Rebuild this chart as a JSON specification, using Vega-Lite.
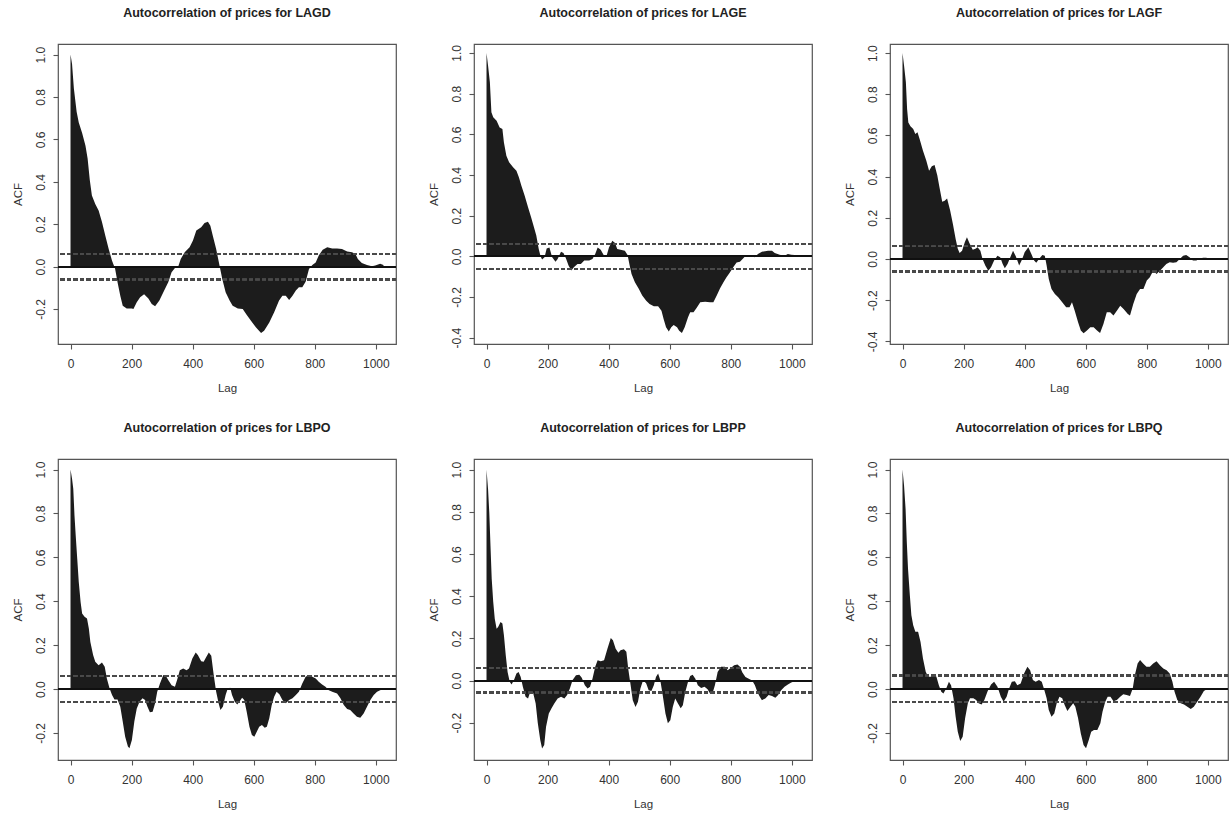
{
  "$schema": "https://vega.github.io/schema/vega-lite/v6.json",
  "padding": {"left": 11, "top": 5, "right": 0, "bottom": 0},
  "background": "white",
  "datasets": {
    "LAGD": [
      {"lag":0,"acf":1.0},{"lag":5,"acf":0.956},{"lag":11,"acf":0.84},{"lag":20,"acf":0.73},{"lag":27,"acf":0.68},{"lag":38,"acf":0.63},{"lag":49,"acf":0.57},{"lag":56,"acf":0.51},{"lag":63,"acf":0.41},{"lag":70,"acf":0.335},{"lag":81,"acf":0.295},{"lag":92,"acf":0.265},{"lag":103,"acf":0.21},{"lag":114,"acf":0.146},{"lag":125,"acf":0.083},{"lag":136,"acf":0.028},{"lag":146,"acf":-0.01},{"lag":154,"acf":-0.074},{"lag":163,"acf":-0.137},{"lag":171,"acf":-0.184},{"lag":184,"acf":-0.197},{"lag":201,"acf":-0.197},{"lag":206,"acf":-0.2},{"lag":217,"acf":-0.168},{"lag":228,"acf":-0.145},{"lag":241,"acf":-0.13},{"lag":255,"acf":-0.15},{"lag":266,"acf":-0.176},{"lag":277,"acf":-0.187},{"lag":291,"acf":-0.16},{"lag":304,"acf":-0.121},{"lag":320,"acf":-0.074},{"lag":331,"acf":-0.027},{"lag":342,"acf":-0.006},{"lag":352,"acf":-0.003},{"lag":361,"acf":0.036},{"lag":374,"acf":0.068},{"lag":390,"acf":0.091},{"lag":401,"acf":0.123},{"lag":412,"acf":0.17},{"lag":428,"acf":0.186},{"lag":439,"acf":0.206},{"lag":450,"acf":0.212},{"lag":458,"acf":0.193},{"lag":466,"acf":0.146},{"lag":477,"acf":0.083},{"lag":488,"acf":0.005},{"lag":497,"acf":-0.058},{"lag":508,"acf":-0.121},{"lag":521,"acf":-0.16},{"lag":531,"acf":-0.184},{"lag":548,"acf":-0.197},{"lag":564,"acf":-0.2},{"lag":575,"acf":-0.223},{"lag":591,"acf":-0.255},{"lag":607,"acf":-0.286},{"lag":624,"acf":-0.313},{"lag":634,"acf":-0.302},{"lag":651,"acf":-0.263},{"lag":667,"acf":-0.215},{"lag":683,"acf":-0.16},{"lag":694,"acf":-0.137},{"lag":705,"acf":-0.137},{"lag":716,"acf":-0.157},{"lag":727,"acf":-0.137},{"lag":738,"acf":-0.113},{"lag":748,"acf":-0.097},{"lag":759,"acf":-0.097},{"lag":770,"acf":-0.071},{"lag":781,"acf":-0.011},{"lag":792,"acf":0.008},{"lag":803,"acf":0.02},{"lag":813,"acf":0.052},{"lag":826,"acf":0.08},{"lag":841,"acf":0.091},{"lag":857,"acf":0.086},{"lag":873,"acf":0.086},{"lag":889,"acf":0.083},{"lag":906,"acf":0.071},{"lag":922,"acf":0.068},{"lag":933,"acf":0.06},{"lag":941,"acf":0.036},{"lag":954,"acf":0.017},{"lag":971,"acf":0.008},{"lag":987,"acf":0.002},{"lag":998,"acf":0.005},{"lag":1014,"acf":0.013},{"lag":1025,"acf":0.008}
    ],
    "LAGE": [
      {"lag":0,"acf":1.0},{"lag":5,"acf":0.938},{"lag":11,"acf":0.856},{"lag":16,"acf":0.708},{"lag":22,"acf":0.684},{"lag":33,"acf":0.667},{"lag":43,"acf":0.634},{"lag":52,"acf":0.626},{"lag":57,"acf":0.56},{"lag":65,"acf":0.495},{"lag":74,"acf":0.462},{"lag":87,"acf":0.438},{"lag":98,"acf":0.421},{"lag":106,"acf":0.389},{"lag":114,"acf":0.348},{"lag":125,"acf":0.298},{"lag":136,"acf":0.241},{"lag":146,"acf":0.192},{"lag":154,"acf":0.151},{"lag":163,"acf":0.102},{"lag":171,"acf":0.036},{"lag":177,"acf":0.0},{"lag":182,"acf":-0.016},{"lag":190,"acf":-0.005},{"lag":197,"acf":0.039},{"lag":206,"acf":0.044},{"lag":215,"acf":-0.005},{"lag":226,"acf":-0.026},{"lag":233,"acf":-0.013},{"lag":244,"acf":0.023},{"lag":252,"acf":0.016},{"lag":260,"acf":-0.01},{"lag":269,"acf":-0.046},{"lag":278,"acf":-0.07},{"lag":286,"acf":-0.054},{"lag":298,"acf":-0.038},{"lag":309,"acf":-0.038},{"lag":320,"acf":-0.021},{"lag":336,"acf":-0.021},{"lag":347,"acf":-0.013},{"lag":356,"acf":0.011},{"lag":364,"acf":0.044},{"lag":374,"acf":0.033},{"lag":385,"acf":0.003},{"lag":394,"acf":0.007},{"lag":401,"acf":0.044},{"lag":412,"acf":0.077},{"lag":421,"acf":0.066},{"lag":428,"acf":0.036},{"lag":439,"acf":0.033},{"lag":453,"acf":0.028},{"lag":462,"acf":0.007},{"lag":469,"acf":-0.046},{"lag":475,"acf":-0.087},{"lag":486,"acf":-0.128},{"lag":499,"acf":-0.161},{"lag":510,"acf":-0.193},{"lag":523,"acf":-0.218},{"lag":534,"acf":-0.234},{"lag":548,"acf":-0.246},{"lag":562,"acf":-0.246},{"lag":573,"acf":-0.267},{"lag":580,"acf":-0.308},{"lag":588,"acf":-0.349},{"lag":597,"acf":-0.37},{"lag":605,"acf":-0.349},{"lag":613,"acf":-0.338},{"lag":624,"acf":-0.349},{"lag":631,"acf":-0.366},{"lag":640,"acf":-0.377},{"lag":649,"acf":-0.349},{"lag":660,"acf":-0.3},{"lag":667,"acf":-0.275},{"lag":678,"acf":-0.275},{"lag":689,"acf":-0.251},{"lag":700,"acf":-0.226},{"lag":716,"acf":-0.223},{"lag":732,"acf":-0.226},{"lag":743,"acf":-0.226},{"lag":754,"acf":-0.193},{"lag":765,"acf":-0.157},{"lag":776,"acf":-0.128},{"lag":786,"acf":-0.103},{"lag":797,"acf":-0.079},{"lag":808,"acf":-0.054},{"lag":819,"acf":-0.03},{"lag":830,"acf":-0.026},{"lag":841,"acf":-0.01},{"lag":851,"acf":0.007},{"lag":862,"acf":0.007},{"lag":878,"acf":-0.005},{"lag":889,"acf":0.011},{"lag":902,"acf":0.023},{"lag":922,"acf":0.028},{"lag":935,"acf":0.028},{"lag":944,"acf":0.016},{"lag":960,"acf":0.008},{"lag":976,"acf":0.003},{"lag":987,"acf":0.011},{"lag":998,"acf":0.008},{"lag":1009,"acf":0.007},{"lag":1022,"acf":0.003}
    ],
    "LAGF": [
      {"lag":0,"acf":1.0},{"lag":5,"acf":0.939},{"lag":11,"acf":0.858},{"lag":15,"acf":0.728},{"lag":19,"acf":0.663},{"lag":26,"acf":0.644},{"lag":35,"acf":0.631},{"lag":42,"acf":0.607},{"lag":49,"acf":0.615},{"lag":56,"acf":0.583},{"lag":67,"acf":0.526},{"lag":78,"acf":0.477},{"lag":87,"acf":0.429},{"lag":96,"acf":0.45},{"lag":105,"acf":0.456},{"lag":114,"acf":0.405},{"lag":121,"acf":0.348},{"lag":130,"acf":0.278},{"lag":138,"acf":0.283},{"lag":146,"acf":0.294},{"lag":156,"acf":0.235},{"lag":165,"acf":0.17},{"lag":174,"acf":0.097},{"lag":181,"acf":0.049},{"lag":187,"acf":0.029},{"lag":195,"acf":0.04},{"lag":204,"acf":0.081},{"lag":211,"acf":0.105},{"lag":219,"acf":0.078},{"lag":230,"acf":0.045},{"lag":239,"acf":0.049},{"lag":246,"acf":0.057},{"lag":255,"acf":0.04},{"lag":262,"acf":0.0},{"lag":271,"acf":-0.032},{"lag":281,"acf":-0.057},{"lag":290,"acf":-0.04},{"lag":300,"acf":-0.008},{"lag":311,"acf":0.016},{"lag":320,"acf":0.008},{"lag":328,"acf":-0.024},{"lag":335,"acf":-0.045},{"lag":344,"acf":-0.024},{"lag":355,"acf":0.016},{"lag":362,"acf":0.04},{"lag":371,"acf":0.013},{"lag":382,"acf":-0.032},{"lag":390,"acf":-0.008},{"lag":400,"acf":0.032},{"lag":412,"acf":0.057},{"lag":422,"acf":0.024},{"lag":431,"acf":-0.008},{"lag":438,"acf":-0.019},{"lag":447,"acf":0.0},{"lag":458,"acf":0.019},{"lag":466,"acf":0.016},{"lag":472,"acf":-0.032},{"lag":479,"acf":-0.097},{"lag":488,"acf":-0.146},{"lag":499,"acf":-0.17},{"lag":510,"acf":-0.186},{"lag":523,"acf":-0.21},{"lag":536,"acf":-0.235},{"lag":547,"acf":-0.235},{"lag":555,"acf":-0.21},{"lag":564,"acf":-0.251},{"lag":575,"acf":-0.307},{"lag":584,"acf":-0.348},{"lag":593,"acf":-0.361},{"lag":604,"acf":-0.348},{"lag":615,"acf":-0.332},{"lag":626,"acf":-0.332},{"lag":637,"acf":-0.348},{"lag":647,"acf":-0.359},{"lag":658,"acf":-0.316},{"lag":669,"acf":-0.259},{"lag":680,"acf":-0.259},{"lag":691,"acf":-0.275},{"lag":702,"acf":-0.251},{"lag":713,"acf":-0.227},{"lag":724,"acf":-0.243},{"lag":738,"acf":-0.267},{"lag":745,"acf":-0.275},{"lag":756,"acf":-0.218},{"lag":767,"acf":-0.17},{"lag":778,"acf":-0.146},{"lag":789,"acf":-0.146},{"lag":800,"acf":-0.105},{"lag":810,"acf":-0.089},{"lag":821,"acf":-0.057},{"lag":832,"acf":-0.073},{"lag":843,"acf":-0.057},{"lag":854,"acf":-0.04},{"lag":864,"acf":-0.024},{"lag":875,"acf":-0.016},{"lag":886,"acf":-0.019},{"lag":897,"acf":-0.016},{"lag":908,"acf":0.0},{"lag":919,"acf":0.016},{"lag":929,"acf":0.019},{"lag":940,"acf":0.008},{"lag":951,"acf":-0.008},{"lag":962,"acf":-0.008},{"lag":973,"acf":0.0},{"lag":984,"acf":0.006},{"lag":995,"acf":0.006},{"lag":1005,"acf":0.0},{"lag":1020,"acf":-0.003}
    ],
    "LBPO": [
      {"lag":0,"acf":1.0},{"lag":5,"acf":0.958},{"lag":9,"acf":0.912},{"lag":13,"acf":0.791},{"lag":17,"acf":0.7},{"lag":22,"acf":0.594},{"lag":27,"acf":0.488},{"lag":33,"acf":0.397},{"lag":38,"acf":0.344},{"lag":46,"acf":0.329},{"lag":54,"acf":0.321},{"lag":60,"acf":0.276},{"lag":65,"acf":0.215},{"lag":74,"acf":0.155},{"lag":81,"acf":0.124},{"lag":92,"acf":0.109},{"lag":103,"acf":0.121},{"lag":112,"acf":0.102},{"lag":119,"acf":0.048},{"lag":128,"acf":0.003},{"lag":136,"acf":-0.027},{"lag":144,"acf":-0.047},{"lag":154,"acf":-0.047},{"lag":163,"acf":-0.08},{"lag":171,"acf":-0.148},{"lag":179,"acf":-0.217},{"lag":188,"acf":-0.262},{"lag":193,"acf":-0.27},{"lag":201,"acf":-0.232},{"lag":209,"acf":-0.148},{"lag":217,"acf":-0.088},{"lag":226,"acf":-0.058},{"lag":236,"acf":-0.042},{"lag":244,"acf":-0.05},{"lag":252,"acf":-0.08},{"lag":260,"acf":-0.106},{"lag":269,"acf":-0.103},{"lag":277,"acf":-0.065},{"lag":284,"acf":-0.012},{"lag":293,"acf":0.026},{"lag":304,"acf":0.064},{"lag":312,"acf":0.061},{"lag":320,"acf":0.041},{"lag":331,"acf":0.018},{"lag":342,"acf":0.011},{"lag":349,"acf":0.041},{"lag":358,"acf":0.086},{"lag":369,"acf":0.094},{"lag":380,"acf":0.086},{"lag":388,"acf":0.094},{"lag":399,"acf":0.139},{"lag":410,"acf":0.167},{"lag":417,"acf":0.155},{"lag":428,"acf":0.127},{"lag":436,"acf":0.124},{"lag":445,"acf":0.147},{"lag":453,"acf":0.167},{"lag":461,"acf":0.152},{"lag":469,"acf":0.064},{"lag":477,"acf":-0.012},{"lag":485,"acf":-0.065},{"lag":491,"acf":-0.095},{"lag":499,"acf":-0.08},{"lag":508,"acf":-0.027},{"lag":515,"acf":0.003},{"lag":523,"acf":0.006},{"lag":529,"acf":-0.027},{"lag":538,"acf":-0.058},{"lag":546,"acf":-0.07},{"lag":553,"acf":-0.058},{"lag":562,"acf":-0.039},{"lag":569,"acf":-0.05},{"lag":577,"acf":-0.103},{"lag":586,"acf":-0.171},{"lag":594,"acf":-0.209},{"lag":602,"acf":-0.217},{"lag":610,"acf":-0.194},{"lag":618,"acf":-0.171},{"lag":627,"acf":-0.164},{"lag":636,"acf":-0.176},{"lag":643,"acf":-0.171},{"lag":651,"acf":-0.133},{"lag":659,"acf":-0.073},{"lag":667,"acf":-0.035},{"lag":675,"acf":-0.012},{"lag":684,"acf":-0.024},{"lag":694,"acf":-0.05},{"lag":705,"acf":-0.065},{"lag":716,"acf":-0.05},{"lag":727,"acf":-0.042},{"lag":738,"acf":-0.027},{"lag":748,"acf":-0.012},{"lag":759,"acf":0.026},{"lag":770,"acf":0.056},{"lag":781,"acf":0.064},{"lag":792,"acf":0.056},{"lag":803,"acf":0.048},{"lag":813,"acf":0.033},{"lag":824,"acf":0.021},{"lag":835,"acf":0.011},{"lag":846,"acf":-0.005},{"lag":857,"acf":-0.012},{"lag":873,"acf":-0.02},{"lag":884,"acf":-0.042},{"lag":895,"acf":-0.073},{"lag":906,"acf":-0.091},{"lag":916,"acf":-0.095},{"lag":927,"acf":-0.111},{"lag":938,"acf":-0.126},{"lag":949,"acf":-0.13},{"lag":960,"acf":-0.111},{"lag":971,"acf":-0.08},{"lag":982,"acf":-0.05},{"lag":993,"acf":-0.027},{"lag":1004,"acf":-0.012},{"lag":1014,"acf":-0.005},{"lag":1025,"acf":0.0}
    ],
    "LBPP": [
      {"lag":0,"acf":1.0},{"lag":5,"acf":0.909},{"lag":9,"acf":0.798},{"lag":13,"acf":0.64},{"lag":17,"acf":0.483},{"lag":22,"acf":0.372},{"lag":27,"acf":0.293},{"lag":33,"acf":0.246},{"lag":38,"acf":0.254},{"lag":46,"acf":0.278},{"lag":52,"acf":0.27},{"lag":57,"acf":0.215},{"lag":63,"acf":0.12},{"lag":69,"acf":0.041},{"lag":76,"acf":-0.006},{"lag":82,"acf":-0.019},{"lag":90,"acf":0.002},{"lag":98,"acf":0.033},{"lag":105,"acf":0.041},{"lag":112,"acf":0.017},{"lag":119,"acf":-0.03},{"lag":128,"acf":-0.077},{"lag":136,"acf":-0.085},{"lag":143,"acf":-0.054},{"lag":152,"acf":-0.054},{"lag":161,"acf":-0.109},{"lag":168,"acf":-0.203},{"lag":176,"acf":-0.282},{"lag":182,"acf":-0.322},{"lag":189,"acf":-0.306},{"lag":195,"acf":-0.219},{"lag":204,"acf":-0.156},{"lag":213,"acf":-0.132},{"lag":222,"acf":-0.109},{"lag":233,"acf":-0.085},{"lag":244,"acf":-0.077},{"lag":255,"acf":-0.085},{"lag":264,"acf":-0.069},{"lag":273,"acf":-0.038},{"lag":282,"acf":0.002},{"lag":293,"acf":0.025},{"lag":304,"acf":0.028},{"lag":312,"acf":0.013},{"lag":322,"acf":-0.022},{"lag":331,"acf":-0.038},{"lag":339,"acf":-0.03},{"lag":347,"acf":0.009},{"lag":356,"acf":0.065},{"lag":364,"acf":0.096},{"lag":374,"acf":0.091},{"lag":385,"acf":0.096},{"lag":396,"acf":0.151},{"lag":407,"acf":0.202},{"lag":414,"acf":0.191},{"lag":423,"acf":0.151},{"lag":432,"acf":0.132},{"lag":439,"acf":0.144},{"lag":450,"acf":0.148},{"lag":458,"acf":0.136},{"lag":464,"acf":0.057},{"lag":472,"acf":-0.022},{"lag":479,"acf":-0.093},{"lag":488,"acf":-0.125},{"lag":496,"acf":-0.101},{"lag":504,"acf":-0.038},{"lag":513,"acf":0.002},{"lag":523,"acf":-0.014},{"lag":531,"acf":-0.046},{"lag":540,"acf":-0.05},{"lag":548,"acf":-0.022},{"lag":555,"acf":0.017},{"lag":562,"acf":0.033},{"lag":569,"acf":0.002},{"lag":577,"acf":-0.069},{"lag":586,"acf":-0.156},{"lag":594,"acf":-0.203},{"lag":602,"acf":-0.188},{"lag":610,"acf":-0.125},{"lag":618,"acf":-0.085},{"lag":627,"acf":-0.109},{"lag":636,"acf":-0.132},{"lag":643,"acf":-0.117},{"lag":651,"acf":-0.054},{"lag":660,"acf":-0.006},{"lag":667,"acf":0.022},{"lag":675,"acf":0.028},{"lag":684,"acf":0.009},{"lag":692,"acf":-0.022},{"lag":703,"acf":-0.035},{"lag":714,"acf":-0.03},{"lag":724,"acf":-0.041},{"lag":732,"acf":-0.062},{"lag":740,"acf":-0.062},{"lag":748,"acf":-0.022},{"lag":757,"acf":0.041},{"lag":768,"acf":0.065},{"lag":781,"acf":0.065},{"lag":790,"acf":0.049},{"lag":800,"acf":0.06},{"lag":811,"acf":0.073},{"lag":822,"acf":0.076},{"lag":830,"acf":0.065},{"lag":838,"acf":0.038},{"lag":848,"acf":0.017},{"lag":859,"acf":0.009},{"lag":870,"acf":0.0},{"lag":879,"acf":-0.022},{"lag":887,"acf":-0.054},{"lag":895,"acf":-0.077},{"lag":902,"acf":-0.093},{"lag":913,"acf":-0.085},{"lag":924,"acf":-0.069},{"lag":935,"acf":-0.073},{"lag":946,"acf":-0.082},{"lag":955,"acf":-0.069},{"lag":965,"acf":-0.046},{"lag":976,"acf":-0.03},{"lag":987,"acf":-0.019},{"lag":998,"acf":-0.009},{"lag":1009,"acf":-0.003}
    ],
    "LBPQ": [
      {"lag":0,"acf":1.0},{"lag":5,"acf":0.927},{"lag":10,"acf":0.821},{"lag":14,"acf":0.67},{"lag":18,"acf":0.548},{"lag":24,"acf":0.427},{"lag":29,"acf":0.336},{"lag":35,"acf":0.291},{"lag":42,"acf":0.261},{"lag":51,"acf":0.261},{"lag":59,"acf":0.215},{"lag":67,"acf":0.139},{"lag":76,"acf":0.079},{"lag":84,"acf":0.056},{"lag":94,"acf":0.056},{"lag":103,"acf":0.067},{"lag":111,"acf":0.056},{"lag":119,"acf":0.018},{"lag":127,"acf":-0.012},{"lag":134,"acf":-0.02},{"lag":143,"acf":0.003},{"lag":152,"acf":0.033},{"lag":159,"acf":0.018},{"lag":167,"acf":-0.042},{"lag":174,"acf":-0.126},{"lag":181,"acf":-0.194},{"lag":189,"acf":-0.236},{"lag":197,"acf":-0.217},{"lag":205,"acf":-0.133},{"lag":214,"acf":-0.065},{"lag":221,"acf":-0.042},{"lag":232,"acf":-0.042},{"lag":241,"acf":-0.05},{"lag":249,"acf":-0.065},{"lag":259,"acf":-0.07},{"lag":268,"acf":-0.05},{"lag":279,"acf":-0.009},{"lag":290,"acf":0.021},{"lag":300,"acf":0.033},{"lag":311,"acf":0.011},{"lag":322,"acf":-0.035},{"lag":331,"acf":-0.058},{"lag":341,"acf":-0.035},{"lag":349,"acf":0.003},{"lag":358,"acf":0.033},{"lag":368,"acf":0.036},{"lag":376,"acf":0.018},{"lag":387,"acf":0.026},{"lag":398,"acf":0.071},{"lag":409,"acf":0.102},{"lag":418,"acf":0.086},{"lag":427,"acf":0.041},{"lag":436,"acf":0.033},{"lag":447,"acf":0.041},{"lag":456,"acf":0.033},{"lag":463,"acf":0.003},{"lag":472,"acf":-0.042},{"lag":479,"acf":-0.095},{"lag":488,"acf":-0.126},{"lag":497,"acf":-0.111},{"lag":505,"acf":-0.065},{"lag":514,"acf":-0.035},{"lag":523,"acf":-0.042},{"lag":531,"acf":-0.073},{"lag":540,"acf":-0.1},{"lag":550,"acf":-0.08},{"lag":559,"acf":-0.065},{"lag":566,"acf":-0.08},{"lag":575,"acf":-0.133},{"lag":584,"acf":-0.202},{"lag":593,"acf":-0.255},{"lag":601,"acf":-0.27},{"lag":610,"acf":-0.232},{"lag":618,"acf":-0.194},{"lag":627,"acf":-0.186},{"lag":638,"acf":-0.186},{"lag":648,"acf":-0.156},{"lag":655,"acf":-0.103},{"lag":664,"acf":-0.058},{"lag":672,"acf":-0.035},{"lag":681,"acf":-0.035},{"lag":691,"acf":-0.055},{"lag":702,"acf":-0.05},{"lag":713,"acf":-0.035},{"lag":723,"acf":-0.024},{"lag":734,"acf":-0.027},{"lag":745,"acf":-0.032},{"lag":754,"acf":0.003},{"lag":761,"acf":0.064},{"lag":770,"acf":0.117},{"lag":778,"acf":0.132},{"lag":788,"acf":0.117},{"lag":799,"acf":0.102},{"lag":810,"acf":0.102},{"lag":821,"acf":0.117},{"lag":832,"acf":0.127},{"lag":843,"acf":0.109},{"lag":854,"acf":0.094},{"lag":865,"acf":0.086},{"lag":875,"acf":0.071},{"lag":884,"acf":0.033},{"lag":891,"acf":-0.012},{"lag":900,"acf":-0.05},{"lag":911,"acf":-0.065},{"lag":922,"acf":-0.07},{"lag":933,"acf":-0.08},{"lag":944,"acf":-0.091},{"lag":954,"acf":-0.08},{"lag":965,"acf":-0.058},{"lag":976,"acf":-0.035},{"lag":987,"acf":-0.009},{"lag":998,"acf":0.0},{"lag":1011,"acf":0.003},{"lag":1024,"acf":0.003}
    ]
  },
  "config": {
    "font": "Liberation Sans",
    "view": {"stroke": "#555555", "strokeWidth": 1.2},
    "axis": {"grid": false, "domain": false, "tickColor": "#555555", "tickWidth": 1.1, "tickSize": 5, "labelFontSize": 12, "labelColor": "#333333", "titleFontSize": 11.5, "titleColor": "#333333", "titleFontWeight": "normal", "labelFlush": false, "labelOverlap": false},
    "axisX": {"labelPadding": 9, "titlePadding": 13, "format": "d"},
    "axisY": {"labelAngle": -90, "labelAlign": "center", "labelBaseline": "alphabetic", "labelPadding": 8.7, "titlePadding": 11, "labelExpr": "(datum.value < -0.0001 ? '-' : '') + format(abs(datum.value), '.1f')"},
    "title": {"fontSize": 12.5, "fontWeight": "bold", "color": "#222222", "offset": 25, "baseline": "alphabetic", "anchor": "middle", "frame": "group"},
    "area": {"color": "#1c1c1c"},
    "rule": {"strokeCap": "butt"}
  },
  "columns": 3,
  "spacing": {"row": 115, "column": 78},
  "bounds": "flush",
  "concat": [
    {
      "title": "Autocorrelation of prices for LAGD",
      "width": 338, "height": 300,
      "data": {"name": "LAGD"},
      "layer": [
        {"mark": {"type": "area", "clip": true},
         "encoding": {
           "x": {"field": "lag", "type": "quantitative", "title": "Lag", "scale": {"domain": [-41, 1066], "nice": false, "zero": false}, "axis": {"values": [0, 200, 400, 600, 800, 1000]}},
           "y": {"field": "acf", "type": "quantitative", "title": "ACF", "scale": {"domain": [-0.365, 1.05], "nice": false, "zero": false}, "axis": {"values": [-0.2, 0, 0.2, 0.4, 0.6, 0.8, 1.0]}},
           "y2": {"datum": 0}}},
        {"mark": {"type": "rule", "color": "#111111", "strokeWidth": 1.2}, "encoding": {"y": {"datum": 0}}},
        {"mark": {"type": "rule", "color": "#4a4a4a", "strokeWidth": 1.4, "strokeDash": [4, 2.5]}, "encoding": {"y": {"datum": 0.061}}},
        {"mark": {"type": "rule", "color": "#4a4a4a", "strokeWidth": 1.4, "strokeDash": [4, 2.5]}, "encoding": {"y": {"datum": -0.061}}}
      ]
    },
    {
      "title": "Autocorrelation of prices for LAGE",
      "width": 338, "height": 300,
      "data": {"name": "LAGE"},
      "layer": [
        {"mark": {"type": "area", "clip": true},
         "encoding": {
           "x": {"field": "lag", "type": "quantitative", "title": "Lag", "scale": {"domain": [-41, 1066], "nice": false, "zero": false}, "axis": {"values": [0, 200, 400, 600, 800, 1000]}},
           "y": {"field": "acf", "type": "quantitative", "title": "ACF", "scale": {"domain": [-0.431, 1.044], "nice": false, "zero": false}, "axis": {"values": [-0.4, -0.2, 0, 0.2, 0.4, 0.6, 0.8, 1.0]}},
           "y2": {"datum": 0}}},
        {"mark": {"type": "rule", "color": "#111111", "strokeWidth": 1.2}, "encoding": {"y": {"datum": 0}}},
        {"mark": {"type": "rule", "color": "#4a4a4a", "strokeWidth": 1.4, "strokeDash": [4, 2.5]}, "encoding": {"y": {"datum": 0.062}}},
        {"mark": {"type": "rule", "color": "#4a4a4a", "strokeWidth": 1.4, "strokeDash": [4, 2.5]}, "encoding": {"y": {"datum": -0.062}}}
      ]
    },
    {
      "title": "Autocorrelation of prices for LAGF",
      "width": 338, "height": 300,
      "data": {"name": "LAGF"},
      "layer": [
        {"mark": {"type": "area", "clip": true},
         "encoding": {
           "x": {"field": "lag", "type": "quantitative", "title": "Lag", "scale": {"domain": [-41, 1066], "nice": false, "zero": false}, "axis": {"values": [0, 200, 400, 600, 800, 1000]}},
           "y": {"field": "acf", "type": "quantitative", "title": "ACF", "scale": {"domain": [-0.413, 1.044], "nice": false, "zero": false}, "axis": {"values": [-0.4, -0.2, 0, 0.2, 0.4, 0.6, 0.8, 1.0]}},
           "y2": {"datum": 0}}},
        {"mark": {"type": "rule", "color": "#111111", "strokeWidth": 1.2}, "encoding": {"y": {"datum": 0}}},
        {"mark": {"type": "rule", "color": "#4a4a4a", "strokeWidth": 1.4, "strokeDash": [4, 2.5]}, "encoding": {"y": {"datum": 0.061}}},
        {"mark": {"type": "rule", "color": "#4a4a4a", "strokeWidth": 1.4, "strokeDash": [4, 2.5]}, "encoding": {"y": {"datum": -0.061}}}
      ]
    },
    {
      "title": "Autocorrelation of prices for LBPO",
      "width": 338, "height": 301,
      "data": {"name": "LBPO"},
      "layer": [
        {"mark": {"type": "area", "clip": true},
         "encoding": {
           "x": {"field": "lag", "type": "quantitative", "title": "Lag", "scale": {"domain": [-41, 1066], "nice": false, "zero": false}, "axis": {"values": [0, 200, 400, 600, 800, 1000]}},
           "y": {"field": "acf", "type": "quantitative", "title": "ACF", "scale": {"domain": [-0.323, 1.048], "nice": false, "zero": false}, "axis": {"values": [-0.2, 0, 0.2, 0.4, 0.6, 0.8, 1.0]}},
           "y2": {"datum": 0}}},
        {"mark": {"type": "rule", "color": "#111111", "strokeWidth": 1.2}, "encoding": {"y": {"datum": 0}}},
        {"mark": {"type": "rule", "color": "#4a4a4a", "strokeWidth": 1.4, "strokeDash": [4, 2.5]}, "encoding": {"y": {"datum": 0.061}}},
        {"mark": {"type": "rule", "color": "#4a4a4a", "strokeWidth": 1.4, "strokeDash": [4, 2.5]}, "encoding": {"y": {"datum": -0.058}}}
      ]
    },
    {
      "title": "Autocorrelation of prices for LBPP",
      "width": 338, "height": 301,
      "data": {"name": "LBPP"},
      "layer": [
        {"mark": {"type": "area", "clip": true},
         "encoding": {
           "x": {"field": "lag", "type": "quantitative", "title": "Lag", "scale": {"domain": [-41, 1066], "nice": false, "zero": false}, "axis": {"values": [0, 200, 400, 600, 800, 1000]}},
           "y": {"field": "acf", "type": "quantitative", "title": "ACF", "scale": {"domain": [-0.377, 1.051], "nice": false, "zero": false}, "axis": {"values": [-0.2, 0, 0.2, 0.4, 0.6, 0.8, 1.0]}},
           "y2": {"datum": 0}}},
        {"mark": {"type": "rule", "color": "#111111", "strokeWidth": 1.2}, "encoding": {"y": {"datum": 0}}},
        {"mark": {"type": "rule", "color": "#4a4a4a", "strokeWidth": 1.4, "strokeDash": [4, 2.5]}, "encoding": {"y": {"datum": 0.06}}},
        {"mark": {"type": "rule", "color": "#4a4a4a", "strokeWidth": 1.4, "strokeDash": [4, 2.5]}, "encoding": {"y": {"datum": -0.057}}}
      ]
    },
    {
      "title": "Autocorrelation of prices for LBPQ",
      "width": 338, "height": 301,
      "data": {"name": "LBPQ"},
      "layer": [
        {"mark": {"type": "area", "clip": true},
         "encoding": {
           "x": {"field": "lag", "type": "quantitative", "title": "Lag", "scale": {"domain": [-41, 1066], "nice": false, "zero": false}, "axis": {"values": [0, 200, 400, 600, 800, 1000]}},
           "y": {"field": "acf", "type": "quantitative", "title": "ACF", "scale": {"domain": [-0.323, 1.048], "nice": false, "zero": false}, "axis": {"values": [-0.2, 0, 0.2, 0.4, 0.6, 0.8, 1.0]}},
           "y2": {"datum": 0}}},
        {"mark": {"type": "rule", "color": "#111111", "strokeWidth": 1.2}, "encoding": {"y": {"datum": 0}}},
        {"mark": {"type": "rule", "color": "#4a4a4a", "strokeWidth": 1.4, "strokeDash": [4, 2.5]}, "encoding": {"y": {"datum": 0.062}}},
        {"mark": {"type": "rule", "color": "#4a4a4a", "strokeWidth": 1.4, "strokeDash": [4, 2.5]}, "encoding": {"y": {"datum": -0.06}}}
      ]
    }
  ]
}
